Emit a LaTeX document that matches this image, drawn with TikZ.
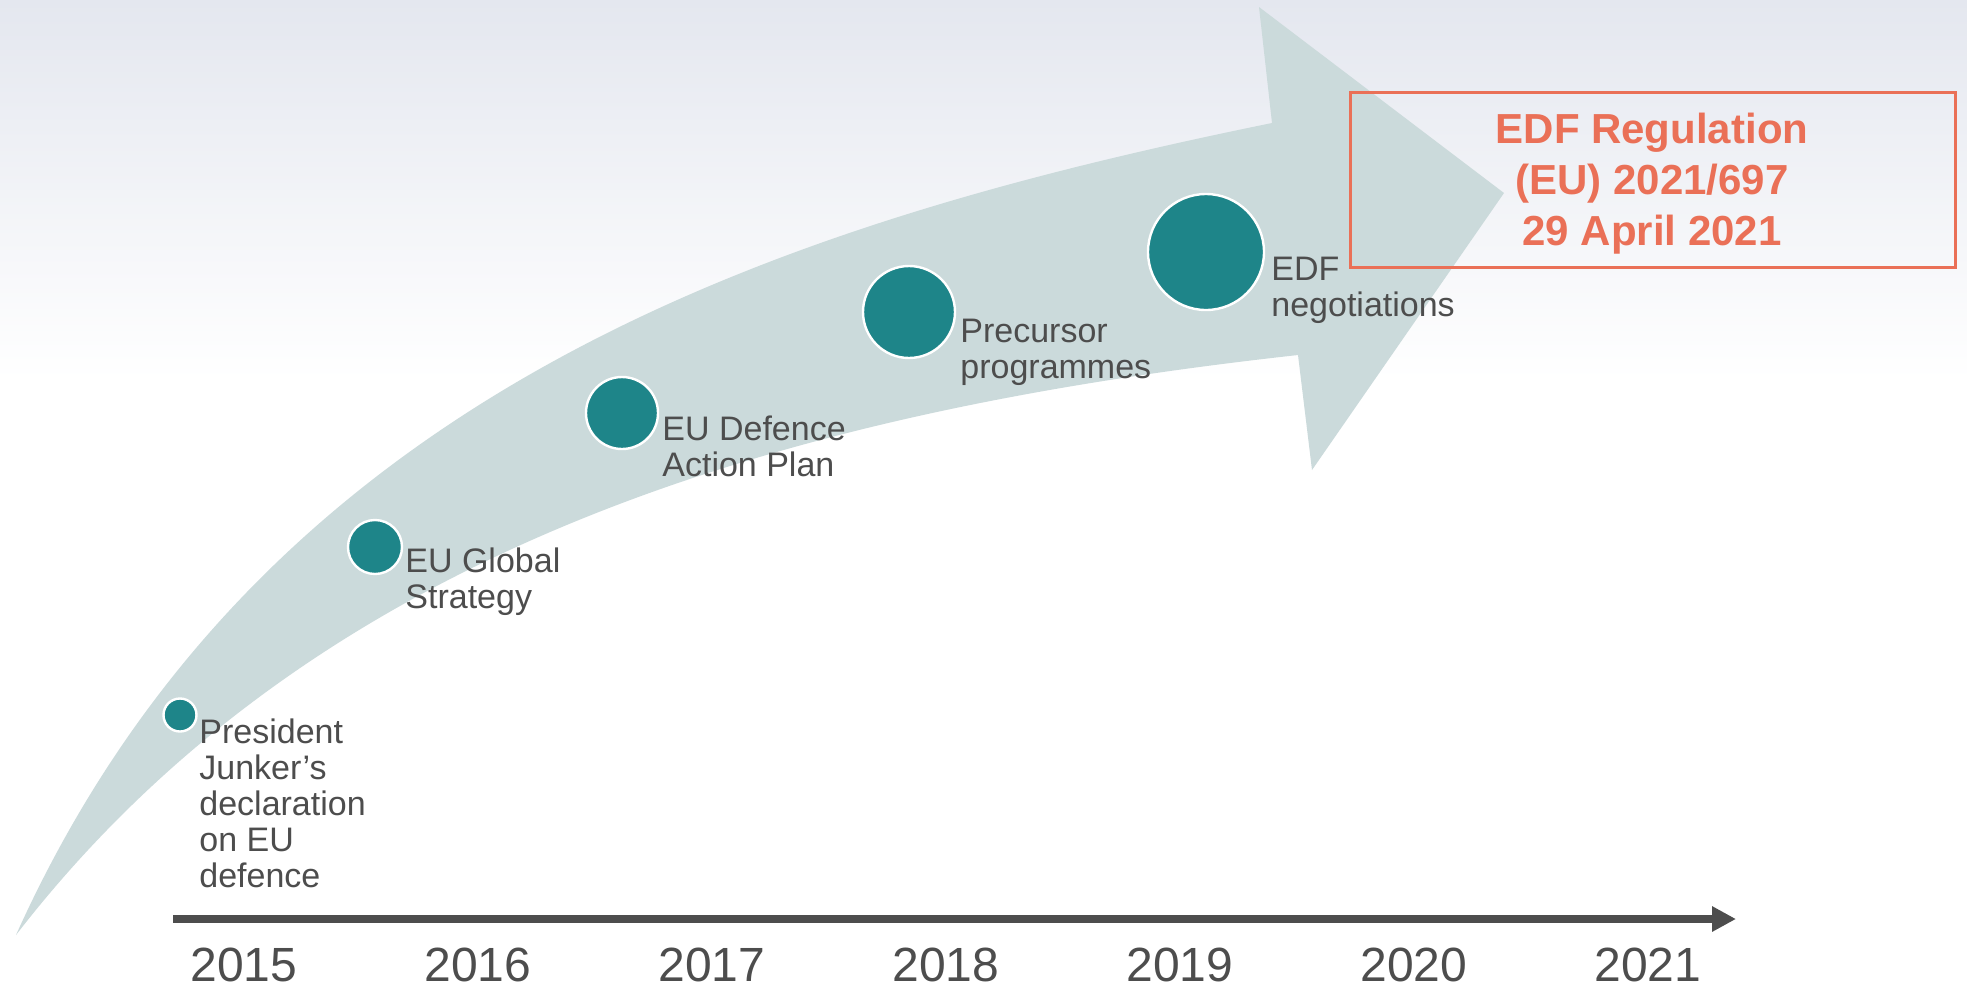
\documentclass[tikz,border=0pt]{standalone}
\usepackage{fontspec}
\setmainfont{Liberation Sans}
\usetikzlibrary{arrows.meta}
\definecolor{bgtop}{RGB}{228,231,239}
\definecolor{bandfill}{RGB}{203,218,219}
\definecolor{dotteal}{RGB}{30,133,137}
\definecolor{labelgrey}{RGB}{77,77,77}
\definecolor{edforange}{RGB}{234,112,87}

\begin{document}
\begin{tikzpicture}[x=0.5pt,y=-0.5pt,
        milestone/.style={circle,fill=dotteal,draw=white,line width=1.2pt,inner sep=0pt},
        eventlabel/.style={anchor=base west,align=left,inner sep=0pt,text=labelgrey,font=\fontsize{17}{18}\selectfont},
        yearlabel/.style={anchor=base,inner sep=0pt,text=labelgrey,font=\fontsize{24}{28}\selectfont}]
            \useasboundingbox (0,0) rectangle (1967,987);
            \fill[white] (0,0) rectangle (1967,987);
            \shade[top color=bgtop,bottom color=white] (0,0) rectangle (1967,380);
            % curved band with its head
            \fill[bandfill] (16,935) .. controls (262,389) and (782,223) .. (1272,123)
                -- (1259,7) -- (1504,193) -- (1312,470) -- (1298,355)
                .. controls (801,410) and (321,540) .. (16,935) -- cycle;
            % milestones
            \node[milestone,minimum size=16.5pt] (junker) at (180,715) {};
            \node[milestone,minimum size=27pt] (global) at (375,547) {};
            \node[milestone,minimum size=36pt] (actionplan) at (622,413) {};
            \node[milestone,minimum size=46pt] (precursor) at (909,312) {};
            \node[milestone,minimum size=58pt] (negotiations) at (1206,252) {};
            % base of each label = baseline of its last line
            \node[eventlabel] (junkertext) at (199,887) {President\\Junker’s\\declaration\\on EU\\defence};
            \node[eventlabel] (globaltext) at (405,608) {EU Global\\Strategy};
            \node[eventlabel] (actionplantext) at (662,476) {EU Defence\\Action Plan};
            \node[eventlabel] (precursortext) at (960,378) {Precursor\\programmes};
            \node[eventlabel] (negotiationstext) at (1271,316) {EDF\\negotiations};
            % regulation box
            \draw[edforange,line width=1.5pt] (1350,92) rectangle (1955,267);
            \node[anchor=base,align=center,inner sep=0pt,text=edforange,font=\bfseries\fontsize{21}{25.5}\selectfont] (regulation) at (1652,245) {EDF Regulation\\(EU) 2021/697\\29 April 2021};
            % time axis
            \coordinate (axisstart) at (173,919);
            \coordinate (axisend) at (1736,919);
            \draw[labelgrey,line width=4pt,-{Triangle[length=12pt,width=12pt]}] (axisstart) -- (axisend);
            \foreach \yr [count=\i from 0] in {2015,...,2021}
                \node[yearlabel] (year\yr) at (244+234*\i,981) {\yr};
        \end{tikzpicture}
\end{document}
